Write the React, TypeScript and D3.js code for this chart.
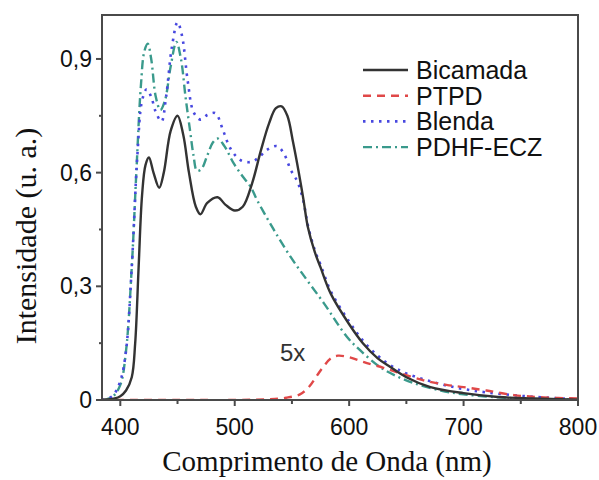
import React from "react";
import * as d3 from "d3";

const bicamadaX = [384, 395, 400, 405, 410, 413, 416, 419, 422, 425, 429, 434, 438, 444, 450, 455, 460, 466, 470, 476, 485, 492, 500, 507, 515, 523, 530, 536, 541, 546, 551, 556, 560, 564, 570, 575, 584, 600, 612, 625, 636, 650, 671, 700, 730, 760, 800];
const bicamadaY = [0.0, 0.004, 0.01, 0.025, 0.06, 0.15, 0.35, 0.54, 0.62, 0.64, 0.6, 0.56, 0.6, 0.71, 0.75, 0.7, 0.6, 0.51, 0.49, 0.52, 0.535, 0.515, 0.5, 0.51, 0.57, 0.66, 0.73, 0.77, 0.775, 0.75, 0.68, 0.6, 0.53, 0.455, 0.39, 0.35, 0.28, 0.2, 0.15, 0.11, 0.087, 0.06, 0.034, 0.018, 0.008, 0.004, 0.001];

const blendaX = [384, 393, 400, 405, 410, 415, 419, 423, 427, 431, 436, 440, 445, 450, 454, 459, 464, 470, 476, 483, 490, 496, 505, 514, 521, 528, 537, 543, 549, 555, 560, 564, 570, 575, 584, 600, 612, 625, 636, 650, 680, 700, 720, 750, 780, 800];
const blendaY = [0.0, 0.01, 0.05, 0.13, 0.35, 0.65, 0.79, 0.82, 0.8, 0.76, 0.735, 0.8, 0.93, 0.997, 0.96, 0.84, 0.76, 0.74, 0.752, 0.757, 0.71, 0.665, 0.633, 0.628, 0.64, 0.66, 0.67, 0.65, 0.607, 0.575, 0.525, 0.46, 0.395, 0.357, 0.287, 0.207, 0.157, 0.117, 0.092, 0.07, 0.042, 0.029, 0.02, 0.011, 0.005, 0.002];

const pdhfX = [384, 393, 400, 405, 410, 414, 418, 421, 424, 427, 431, 435, 439, 444, 449, 453, 457, 461, 464, 467, 471, 476, 481, 485, 491, 499, 507, 514, 520, 534, 549, 563, 578, 598, 610, 627, 640, 656, 680, 700, 730, 760, 800];
const pdhfY = [0.0, 0.008, 0.04, 0.13, 0.35, 0.6, 0.83, 0.92, 0.94, 0.9, 0.8, 0.765, 0.79, 0.88, 0.945, 0.9, 0.8, 0.71, 0.645, 0.605, 0.61, 0.645, 0.68, 0.69, 0.67, 0.625, 0.59, 0.562, 0.525, 0.45, 0.377, 0.317, 0.255, 0.167, 0.13, 0.087, 0.065, 0.045, 0.025, 0.015, 0.007, 0.003, 0.001];

const ptpdX = [384, 450, 500, 530, 545, 557, 565, 572, 578, 584, 590, 600, 613, 630, 645, 665, 685, 700, 720, 744, 770, 800];
const ptpdY = [0, 0, 0, 0.002, 0.006, 0.015, 0.035, 0.065, 0.09, 0.11, 0.117, 0.113, 0.1, 0.085, 0.07, 0.052, 0.04, 0.034, 0.025, 0.013, 0.007, 0.004];

const xTicks = [400, 500, 600, 700, 800];
const xMinor = [450, 550, 650, 750];
const yTicks = [0, 0.3, 0.6, 0.9];
const yTickLabels = ["0", "0,3", "0,6", "0,9"];
const yMinor = [0.15, 0.45, 0.75];

const legendNames = ["Bicamada", "PTPD", "Blenda", "PDHF-ECZ"];

const W = 599, H = 480;
const L = 102, R = 578, T = 15, B = 400;

const styles = [
  { color: "#333333", dash: "none", width: 2.4, cap: "butt" },
  { color: "#e04848", dash: "8 6", width: 2.4, cap: "butt" },
  { color: "#4848e0", dash: "2.5 5.5", width: 2.6, cap: "butt" },
  { color: "#3a9a8c", dash: "9 4 2 4", width: 2.4, cap: "butt" },
];

export default function App() {
  const x = d3.scaleLinear().domain([384, 800]).range([L, R]);
  const y = d3.scaleLinear().domain([0, 1.016]).range([B, T]);
  const line = d3
    .line<[number, number]>()
    .x((d) => x(d[0]))
    .y((d) => y(d[1]))
    .curve(d3.curveCatmullRom.alpha(0.5));

  const series = [
    { xs: bicamadaX, ys: bicamadaY },
    { xs: ptpdX, ys: ptpdY },
    { xs: blendaX, ys: blendaY },
    { xs: pdhfX, ys: pdhfY },
  ];
  const order = [3, 2, 1, 0];

  return (
    <svg width={W} height={H} style={{ position: "absolute", left: 0, top: 0, background: "#fff" }}>
      <defs>
        <clipPath id="clip">
          <rect x={L} y={T} width={R - L} height={B - T} />
        </clipPath>
      </defs>
      <g clipPath="url(#clip)">
        {order.map((i) => {
          const s = series[i];
          const pts = s.xs.map((v, k) => [v, s.ys[k]] as [number, number]);
          const st = styles[i];
          return (
            <path
              key={i}
              d={line(pts) || ""}
              fill="none"
              stroke={st.color}
              strokeWidth={st.width}
              strokeDasharray={st.dash}
              strokeLinecap={st.cap as any}
            />
          );
        })}
      </g>
      <rect x={L} y={T} width={R - L} height={B - T} fill="none" stroke="#4a4a4a" strokeWidth={2} />
      {xTicks.map((t) => (
        <g key={"xt" + t}>
          <line x1={x(t)} x2={x(t)} y1={B} y2={B + 6} stroke="#4a4a4a" strokeWidth={2} />
          <text x={x(t)} y={B + 35} textAnchor="middle" fontFamily="Liberation Sans, Arial, sans-serif" fontSize={23} fill="#111">
            {t}
          </text>
        </g>
      ))}
      {xMinor.map((t) => (
        <line key={"xm" + t} x1={x(t)} x2={x(t)} y1={B} y2={B + 4} stroke="#4a4a4a" strokeWidth={2} />
      ))}
      {yTicks.map((t, i) => (
        <g key={"yt" + t}>
          <line x1={L - 6} x2={L} y1={y(t)} y2={y(t)} stroke="#4a4a4a" strokeWidth={2} />
          <text x={L - 10} y={y(t) + 8} textAnchor="end" fontFamily="Liberation Sans, Arial, sans-serif" fontSize={23} fill="#111">
            {yTickLabels[i]}
          </text>
        </g>
      ))}
      {yMinor.map((t) => (
        <line key={"ym" + t} x1={L - 3} x2={L} y1={y(t)} y2={y(t)} stroke="#4a4a4a" strokeWidth={2} />
      ))}
      <text x={327} y={471} textAnchor="middle" fontFamily="Liberation Serif, Times New Roman, serif" fontSize={29} fill="#111">
        Comprimento de Onda (nm)
      </text>
      <text
        transform={`translate(36, 236) rotate(-90)`}
        textAnchor="middle"
        fontFamily="Liberation Serif, Times New Roman, serif"
        fontSize={30}
        fill="#111"
      >
        Intensidade (u. a.)
      </text>
      <text x={280} y={361} fontFamily="Liberation Sans, Arial, sans-serif" fontSize={24} fill="#333">
        5x
      </text>
      {legendNames.map((n, i) => {
        const ly = 70 + i * 25.7;
        const st = styles[i];
        return (
          <g key={n}>
            <line x1={363} x2={408} y1={ly} y2={ly} stroke={st.color} strokeWidth={st.width} strokeDasharray={st.dash} />
            <text x={416} y={ly + 9} fontFamily="Liberation Sans, Arial, sans-serif" fontSize={25} fill="#111">
              {n}
            </text>
          </g>
        );
      })}
    </svg>
  );
}
